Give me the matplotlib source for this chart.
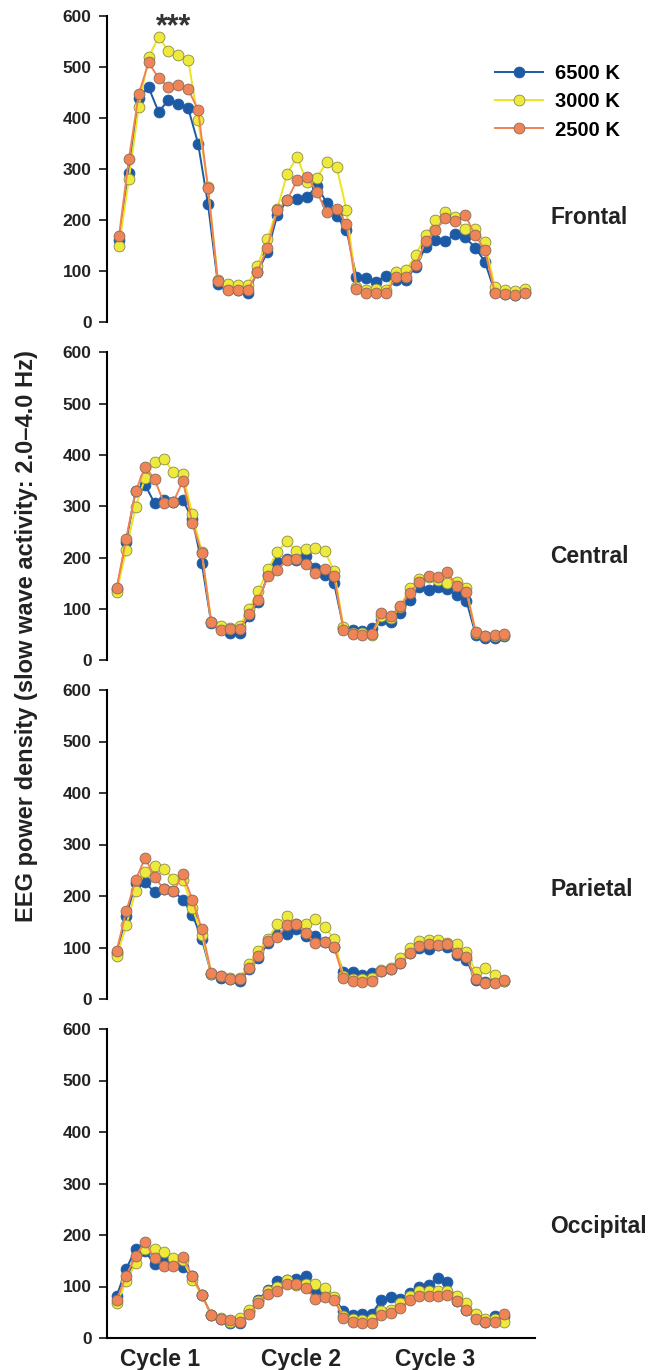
import numpy as np
import matplotlib
matplotlib.use("Agg")
import matplotlib.pyplot as plt

# --- Data: slow wave activity per bin (NREM 10 bins + REM 4 bins per cycle) ---
bins = np.arange(42)
cycle_labels = ["Cycle 1", "Cycle 2", "Cycle 3"]
cycle_ticks = [4.6, 19.5, 33.7]
conditions = ["6500 K", "3000 K", "2500 K"]
regions = ["Frontal", "Central", "Parietal", "Occipital"]

frontal_6500 = [160, 293, 440, 460, 412, 435, 427, 419, 350, 231, 75, 65, 62, 57,
                98, 137, 209, 239, 241, 245, 267, 234, 207, 181, 88, 87, 79, 90,
                82, 83, 108, 147, 160, 159, 173, 166, 146, 118, 58, 55, 52, 58]
frontal_3000 = [149, 280, 422, 520, 558, 532, 524, 514, 396, 265, 82, 75, 72, 73,
                110, 162, 222, 290, 324, 274, 283, 313, 304, 220, 69, 62, 65, 62,
                98, 101, 131, 170, 200, 215, 205, 182, 182, 156, 68, 62, 60, 64]
frontal_2500 = [168, 319, 447, 509, 478, 461, 465, 456, 416, 263, 80, 62, 63, 62,
                98, 146, 219, 239, 278, 285, 255, 215, 222, 193, 65, 56, 56, 56,
                88, 88, 111, 158, 180, 203, 198, 210, 170, 141, 57, 55, 52, 56]

central_6500 = [138, 230, 330, 342, 306, 312, 309, 312, 275, 189, 72, 62, 53, 53,
                85, 114, 166, 192, 198, 195, 202, 179, 166, 150, 63, 59, 57, 63,
                78, 75, 91, 118, 142, 137, 142, 138, 126, 116, 49, 42, 42, 47]
central_3000 = [133, 215, 299, 355, 386, 392, 366, 363, 284, 211, 75, 66, 62, 66,
                99, 135, 177, 210, 233, 213, 217, 218, 213, 174, 65, 53, 52, 49,
                85, 81, 104, 140, 159, 161, 156, 150, 153, 140, 52, 46, 46, 49]
central_2500 = [141, 237, 329, 377, 353, 306, 309, 349, 267, 209, 74, 59, 60, 60,
                90, 118, 163, 176, 195, 198, 187, 169, 177, 164, 59, 51, 49, 51,
                91, 86, 105, 131, 153, 163, 161, 171, 144, 133, 55, 47, 49, 51]

parietal_6500 = [90, 161, 225, 227, 207, 213, 209, 193, 164, 117, 49, 41, 38, 34,
                 58, 80, 109, 124, 126, 136, 122, 122, 110, 101, 52, 52, 47, 50,
                 55, 58, 69, 89, 100, 97, 104, 101, 86, 76, 37, 33, 33, 35]
parietal_3000 = [83, 143, 209, 247, 258, 253, 233, 232, 177, 125, 49, 45, 41, 41,
                 67, 93, 117, 146, 161, 145, 146, 156, 140, 117, 44, 38, 38, 41,
                 57, 60, 79, 99, 113, 115, 115, 109, 107, 92, 53, 60, 47, 35]
parietal_2500 = [94, 170, 231, 274, 237, 213, 209, 242, 193, 136, 51, 44, 39, 39,
                 60, 84, 112, 121, 143, 146, 128, 108, 110, 101, 41, 34, 33, 34,
                 54, 58, 69, 89, 102, 107, 105, 107, 89, 82, 38, 32, 32, 37]

occipital_6500 = [82, 134, 173, 168, 144, 155, 146, 137, 120, 84, 45, 37, 30, 30,
                  52, 74, 94, 110, 113, 115, 121, 94, 87, 78, 52, 45, 47, 47,
                  74, 80, 76, 87, 99, 102, 117, 108, 71, 55, 39, 32, 42, 42]
occipital_3000 = [67, 110, 146, 172, 172, 167, 155, 152, 113, 84, 45, 39, 32, 39,
                  54, 71, 91, 100, 112, 102, 105, 105, 98, 79, 43, 37, 34, 36,
                  52, 55, 68, 81, 91, 91, 91, 91, 82, 68, 47, 36, 36, 32]
occipital_2500 = [74, 121, 159, 186, 155, 139, 139, 157, 120, 84, 45, 37, 34, 31,
                  47, 68, 85, 91, 105, 104, 97, 76, 79, 74, 39, 32, 29, 30,
                  45, 49, 58, 74, 82, 82, 82, 84, 71, 55, 36, 32, 32, 47]

series = {
    "Frontal": [frontal_6500, frontal_3000, frontal_2500],
    "Central": [central_6500, central_3000, central_2500],
    "Parietal": [parietal_6500, parietal_3000, parietal_2500],
    "Occipital": [occipital_6500, occipital_3000, occipital_2500],
}

# --- Styles ---
line_colors = ["#1c5aa6", "#ece41e", "#f28253"]
face_colors = ["#1c5aa6", "#eeea3c", "#ef8456"]
edge_colors = ["#1c5aa6", "#8c8a4a", "#8a6a5a"]

plt.rcParams["font.family"] = ["Liberation Sans", "DejaVu Sans"]
plt.rcParams["font.weight"] = "bold"

W, H = 662, 1370
fig = plt.figure(figsize=(W / 100, H / 100), dpi=100)

# axes boxes in pixel coordinates (top of 600 tick, y of 0 tick)
panel_px = {"Frontal": (16, 322), "Central": (352.5, 660),
            "Parietal": (690, 999), "Occipital": (1029, 1338)}
x_left, x_right = 107, 535
xlims = {"Frontal": (-1.21, 42.06), "Central": (-1.03, 44.27),
         "Parietal": (-1.03, 44.27), "Occipital": (-1.03, 44.27)}
label_y = {"Frontal": 218, "Central": 557, "Parietal": 890, "Occipital": 1227}

axes = {}
for region in regions:
    top, bottom = panel_px[region]
    ax = fig.add_axes([x_left / W, (H - bottom) / H, (x_right - x_left) / W, (bottom - top) / H])
    axes[region] = ax
    for k, vals in enumerate(series[region]):
        ax.plot(bins, vals, color=line_colors[k], lw=1.4, marker="o", ms=7.8,
                mfc=face_colors[k], mec=edge_colors[k], mew=0.6,
                label=conditions[k], clip_on=False)
    ax.set_ylim(0, 600)
    ax.set_xlim(*xlims[region])
    ax.set_yticks(range(0, 601, 100))
    ax.spines["top"].set_visible(False)
    ax.spines["right"].set_visible(False)
    ax.spines["left"].set_linewidth(1.5)
    ax.tick_params(axis="y", direction="out", length=6, width=1.1, pad=5, labelsize=12.5,
                   labelcolor="#222222")
    if region == "Occipital":
        ax.spines["bottom"].set_linewidth(1.5)
        ax.set_xticks(cycle_ticks)
        ax.set_xticklabels(cycle_labels, fontsize=16.5, fontweight="bold", color="#222222")
        ax.tick_params(axis="x", length=0, pad=7)
    else:
        ax.spines["bottom"].set_visible(False)
        ax.set_xticks([])
    fig.text(550 / W, 1 - label_y[region] / H, region, fontsize=16.5, fontweight="bold",
             color="#222222", ha="left", va="center")

# significance marker
axes["Frontal"].text(5.5, 578, "***", fontsize=22, fontweight="bold", color="#333333",
                     ha="center", va="center")

# legend
handles, labels = axes["Frontal"].get_legend_handles_labels()
fig.legend(handles, labels, loc="upper left", bbox_to_anchor=(495 / W, 1 - 64 / H),
           frameon=False, fontsize=14.5, handlelength=2.4, handletextpad=0.6,
           labelspacing=0.46, borderpad=0, borderaxespad=0)

fig.text(27 / W, 1 - 636 / H, "EEG power density (slow wave activity: 2.0\u20134.0 Hz)",
         rotation=90, fontsize=17, fontweight="bold", color="#222222",
         ha="center", va="center")

fig.savefig("out.png", dpi=100)
